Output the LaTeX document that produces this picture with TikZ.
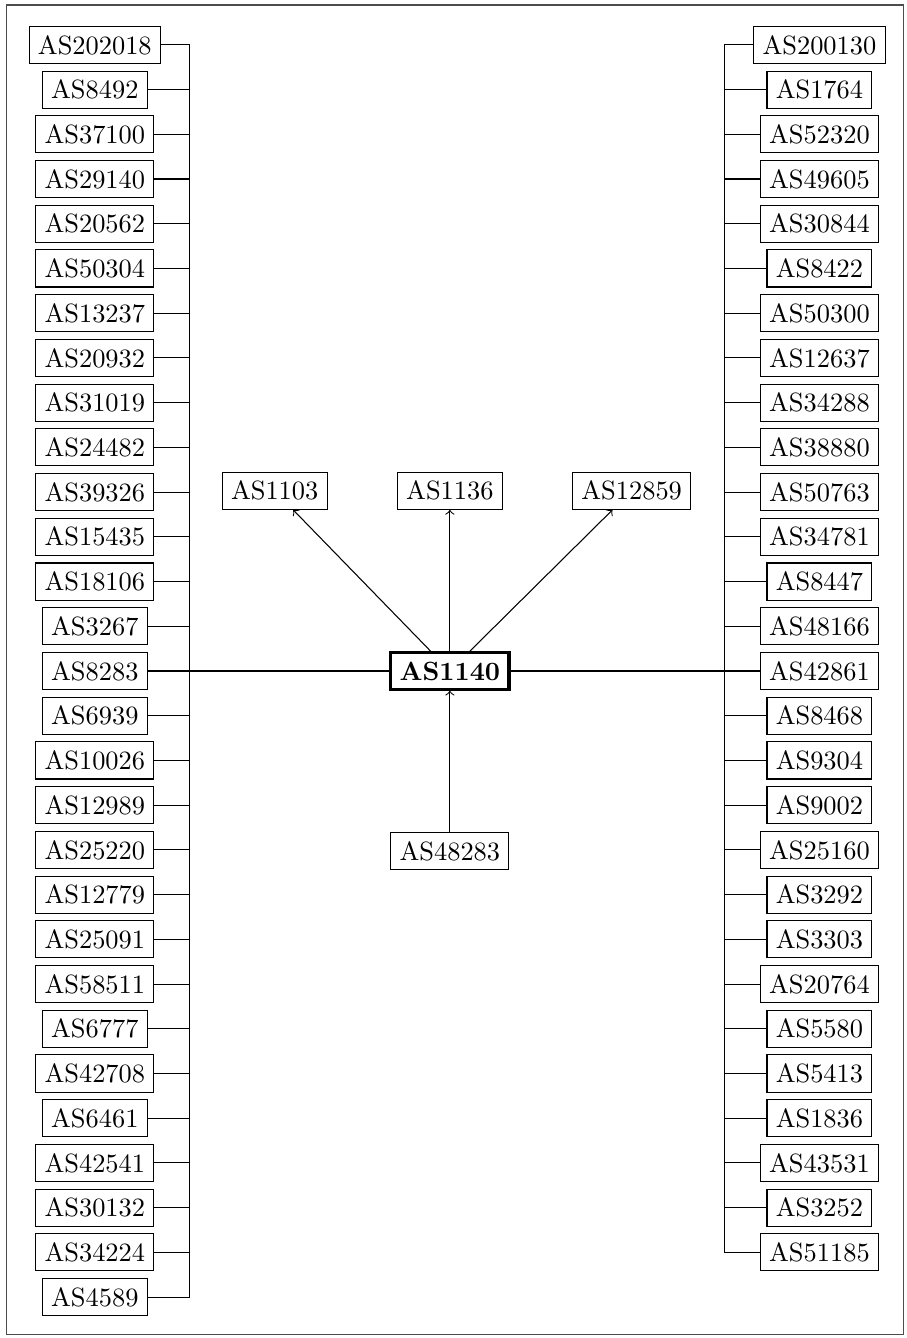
\documentclass[tikz,border=0pt]{standalone}
\usetikzlibrary{positioning}

\begin{document}
\begin{tikzpicture}[
  >=to,
  asbox/.style={draw, inner sep=3.33pt},
  hubbox/.style={draw, very thick, font=\bfseries},
  link/.style={->},
  bus/.style={-}
]

% frame and size
\useasboundingbox (-170.3pt,-252.5pt) rectangle (173.0pt,254.0pt);
\draw[black!70] (-167.7pt,-251.3pt) rectangle (171.8pt,252.1pt);

% centre AS and its neighbours
\node[hubbox] (as1140) at (0,0) {AS1140};
\node[asbox, on grid, above=68.2pt of as1140] (as1136) {AS1136};
\node[asbox, left=26.2pt of as1136] (as1103) {AS1103};
\node[asbox, right=26.2pt of as1136] (as12859) {AS12859};
\node[asbox, on grid, below=68.2pt of as1140] (as48283) {AS48283};

\draw[link] (as1140) -- (as1103);
\draw[link] (as1140) -- (as1136);
\draw[link] (as1140) -- (as12859);
\draw[link] (as48283) -- (as1140);

% bus lines
\coordinate (lbus) at (-98.4pt,0);
\coordinate (rbus) at (104.1pt,0);

% left column
\foreach \asn [count=\i] in {202018,8492,37100,29140,20562,50304,13237,20932,31019,24482,
  39326,15435,18106,3267,8283,6939,10026,12989,25220,12779,25091,58511,6777,42708,6461,
  42541,30132,34224,4589}{
  \node[asbox] (as\asn) at (-134.4pt,{(15-\i)*16.93pt}) {AS\asn};
  \draw[bus] (as\asn) -- (as\asn -| lbus);
}
\draw[bus] (as202018) -| (as4589 -| lbus) -- (as4589);
\draw[bus] (as1140) -- (as1140 -| lbus);

% right column
\foreach \asn [count=\i] in {200130,1764,52320,49605,30844,8422,50300,12637,34288,38880,
  50763,34781,8447,48166,42861,8468,9304,9002,25160,3292,3303,20764,5580,5413,1836,
  43531,3252,51185}{
  \node[asbox] (as\asn) at (139.9pt,{(15-\i)*16.93pt}) {AS\asn};
  \draw[bus] (as\asn) -- (as\asn -| rbus);
}
\draw[bus] (as200130) -| (as51185 -| rbus) -- (as51185);
\draw[bus] (as1140) -- (as1140 -| rbus);

\end{tikzpicture}
\end{document}
